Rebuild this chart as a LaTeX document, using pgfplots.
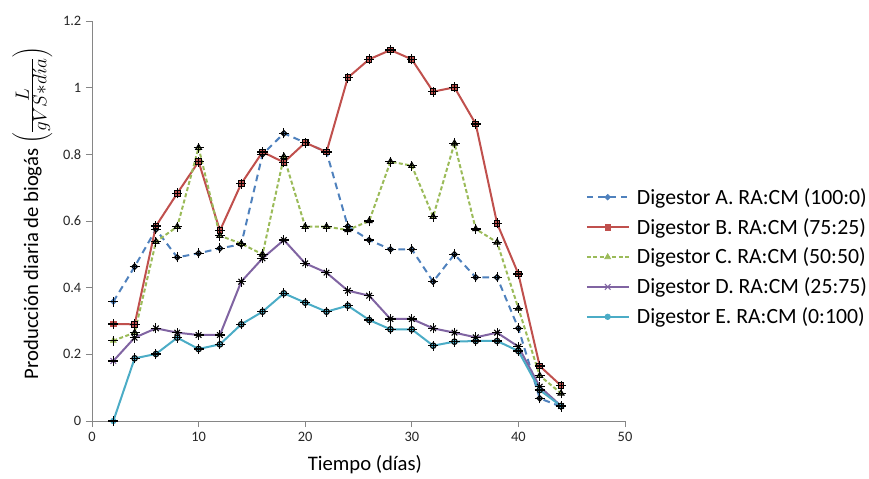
\documentclass[border=0pt]{standalone}
\usepackage{fontspec}
\setmainfont{Carlito}
\usepackage{pgfplots}
\pgfplotsset{compat=1.18}
\definecolor{serA}{HTML}{4F81BD}
\definecolor{serB}{HTML}{C0504D}
\definecolor{serC}{HTML}{9BBB59}
\definecolor{serD}{HTML}{8064A2}
\definecolor{serE}{HTML}{4BACC6}
\definecolor{axgray}{HTML}{868686}

% black "+" drawn over each marker (error-bar look)
\newcommand\blackplus{%
  \pgfsetlinewidth{0.8pt}\pgfsetstrokecolor{black}\pgfsetdash{}{0pt}%
  \pgfpathmoveto{\pgfqpoint{-3.8pt}{0pt}}\pgfpathlineto{\pgfqpoint{3.8pt}{0pt}}%
  \pgfpathmoveto{\pgfqpoint{0pt}{-3.8pt}}\pgfpathlineto{\pgfqpoint{0pt}{3.8pt}}%
  \pgfusepathqstroke}
\newcommand\diampath{%
  \pgfpathmoveto{\pgfqpoint{0pt}{\pgfplotmarksize}}%
  \pgfpathlineto{\pgfqpoint{\pgfplotmarksize}{0pt}}%
  \pgfpathlineto{\pgfqpoint{0pt}{-\pgfplotmarksize}}%
  \pgfpathlineto{\pgfqpoint{-\pgfplotmarksize}{0pt}}\pgfpathclose
  \pgfsetdash{}{0pt}\pgfusepathqfillstroke}
\newcommand\sqpath{%
  \pgfpathrectangle{\pgfqpoint{-\pgfplotmarksize}{-\pgfplotmarksize}}{\pgfqpoint{2\pgfplotmarksize}{2\pgfplotmarksize}}%
  \pgfsetdash{}{0pt}\pgfusepathqfillstroke}
\newcommand\tripath{%
  \pgfpathmoveto{\pgfqpoint{0pt}{1.2\pgfplotmarksize}}%
  \pgfpathlineto{\pgfqpoint{1.04\pgfplotmarksize}{-0.6\pgfplotmarksize}}%
  \pgfpathlineto{\pgfqpoint{-1.04\pgfplotmarksize}{-0.6\pgfplotmarksize}}\pgfpathclose
  \pgfsetdash{}{0pt}\pgfusepathqfillstroke}
\newcommand\xpath{%
  \pgfpathmoveto{\pgfqpoint{-\pgfplotmarksize}{-\pgfplotmarksize}}\pgfpathlineto{\pgfqpoint{\pgfplotmarksize}{\pgfplotmarksize}}%
  \pgfpathmoveto{\pgfqpoint{-\pgfplotmarksize}{\pgfplotmarksize}}\pgfpathlineto{\pgfqpoint{\pgfplotmarksize}{-\pgfplotmarksize}}%
  \pgfsetdash{}{0pt}\pgfusepathqstroke}
\newcommand\cpath{%
  \pgfpathcircle{\pgfpointorigin}{\pgfplotmarksize}\pgfsetdash{}{0pt}\pgfusepathqfillstroke}
\pgfdeclareplotmark{mA}{\diampath\blackplus}
\pgfdeclareplotmark{mB}{\sqpath\blackplus}
\pgfdeclareplotmark{mC}{\tripath\blackplus}
\pgfdeclareplotmark{mD}{\xpath\blackplus}
\pgfdeclareplotmark{mE}{\cpath\blackplus}
\pgfdeclareplotmark{lA}{\diampath}
\pgfdeclareplotmark{lB}{\sqpath}
\pgfdeclareplotmark{lC}{\tripath}
\pgfdeclareplotmark{lD}{\xpath}
\pgfdeclareplotmark{lE}{\cpath}

\begin{document}
\begin{tikzpicture}[x=0.75pt,y=0.75pt]
\begin{axis}[
  at={(0,0)}, anchor=south west,
  scale only axis,
  width=399.75pt, height=300pt,
  xmin=0, xmax=50, ymin=0, ymax=1.2,
  xtick={0,10,...,50},
  ytick={0,0.2,...,1.2},
  axis lines=left,
  axis line style={-, draw=axgray, line width=0.6pt},
  tick style={draw=axgray, line width=0.6pt},
  tick align=outside,
  major tick length=4.5pt,
  minor tick num=0,
  /pgf/number format/assume math mode=true,
  /pgf/number format/fixed,
  /pgf/number format/precision=1,
  ticklabel style={font=\fontsize{10.8}{12}\selectfont, text=black!85},
  xlabel={Tiempo (días)},
  ylabel={Producción diaria de biogás {\fontsize{19}{20}\selectfont$\left(\frac{L}{gVS*d\acute{\imath}a}\right)$}},
  xlabel style={font=\fontsize{15.5}{18}\selectfont, at={(axis description cs:0.512,-0.11)}, anchor=center},
  ylabel style={font=\fontsize{15.5}{18}\selectfont, at={(axis description cs:-0.112,0.52)}, anchor=center},
  legend style={at={(axis description cs:0.926,0.41)}, anchor=west, draw=none, fill=none,
    font=\fontsize{16.3}{18}\selectfont, row sep=5pt, inner sep=0pt,
    nodes={inner xsep=5.5pt}},
  legend cell align=left,
  legend image code/.code={\draw[mark repeat=2,mark phase=2] plot coordinates {(0cm,0cm) (0.55cm,0cm) (1.1cm,0cm)};},
  every axis plot/.append style={line width=1.5pt, mark size=2.1pt},
]
\addplot[color=serA, dash pattern=on 5pt off 3.5pt, mark=mA, mark options={fill=serA, draw=serA, line width=0.5pt},
  legend image post style={mark=lA}] coordinates {
  (2,0.358) (4,0.463) (6,0.575) (8,0.491) (10,0.503) (12,0.518) (14,0.530) (16,0.800)
  (18,0.863) (20,0.835) (22,0.807) (24,0.584) (26,0.543) (28,0.515) (30,0.515) (32,0.418)
  (34,0.500) (36,0.431) (38,0.431) (40,0.278) (42,0.068) (44,0.043)};
\addplot[color=serB, solid, mark=mB, mark options={fill=serB, draw=serB, line width=0.5pt},
  legend image post style={mark=lB}] coordinates {
  (2,0.291) (4,0.290) (6,0.585) (8,0.683) (10,0.778) (12,0.571) (14,0.712) (16,0.807)
  (18,0.776) (20,0.835) (22,0.807) (24,1.030) (26,1.085) (28,1.113) (30,1.085) (32,0.988)
  (34,1.001) (36,0.891) (38,0.593) (40,0.441) (42,0.165) (44,0.106)};
\addplot[color=serC, dash pattern=on 3pt off 1.8pt, mark=mC, mark options={fill=serC, draw=serC, line width=0.5pt},
  legend image post style={mark=lC}] coordinates {
  (2,0.241) (4,0.265) (6,0.538) (8,0.583) (10,0.820) (12,0.556) (14,0.532) (16,0.500)
  (18,0.793) (20,0.583) (22,0.583) (24,0.573) (26,0.600) (28,0.778) (30,0.766) (32,0.613)
  (34,0.833) (36,0.576) (38,0.536) (40,0.338) (42,0.136) (44,0.083)};
\addplot[color=serD, solid, mark=mD, mark options={fill=serD, draw=serD, line width=0.8pt},
  legend image post style={mark=lD}] coordinates {
  (2,0.180) (4,0.250) (6,0.278) (8,0.265) (10,0.258) (12,0.258) (14,0.418) (16,0.488)
  (18,0.543) (20,0.473) (22,0.445) (24,0.391) (26,0.376) (28,0.306) (30,0.306) (32,0.278)
  (34,0.265) (36,0.251) (38,0.265) (40,0.223) (42,0.103) (44,0.045)};
\addplot[color=serE, solid, mark=mE, mark options={fill=serE, draw=serE, line width=0.5pt},
  legend image post style={mark=lE}] coordinates {
  (2,0.000) (4,0.188) (6,0.201) (8,0.250) (10,0.216) (12,0.230) (14,0.290) (16,0.328)
  (18,0.383) (20,0.355) (22,0.328) (24,0.346) (26,0.303) (28,0.275) (30,0.275) (32,0.226)
  (34,0.238) (36,0.240) (38,0.240) (40,0.210) (42,0.093) (44,0.045)};
\legend{Digestor A. RA:CM (100:0), Digestor B. RA:CM (75:25), Digestor C. RA:CM (50:50),
  Digestor D. RA:CM (25:75), Digestor E. RA:CM (0:100)}
\end{axis}
\pgfresetboundingbox
\path (-92,-58) rectangle (777,421);
\end{tikzpicture}
\end{document}
